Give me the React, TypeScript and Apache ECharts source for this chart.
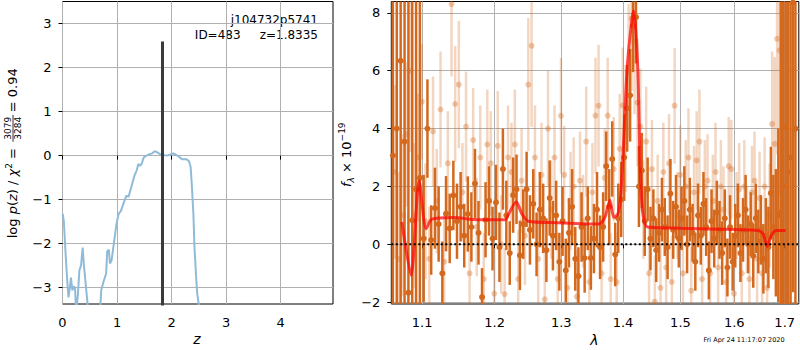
import React, { useEffect, useRef } from 'react';
import * as echarts from 'echarts';

// ---------- left panel: log p(z) ----------
const pzZ = [0.003, 0.025, 0.06, 0.09, 0.11, 0.135, 0.155, 0.18, 0.21, 0.23, 0.25, 0.28, 0.31, 0.34, 0.37, 0.39, 0.43, 0.47, 0.55, 0.69, 0.71, 0.75, 0.80, 0.82, 0.85, 0.87, 0.90, 0.95, 0.99, 1.03, 1.07, 1.12, 1.17, 1.21, 1.26, 1.32, 1.36, 1.39, 1.42, 1.45, 1.49, 1.57, 1.64, 1.69, 1.73, 1.78, 1.85, 1.91, 1.97, 2.03, 2.08, 2.13, 2.19, 2.27, 2.32, 2.35, 2.37, 2.40, 2.42, 2.45, 2.47, 2.50, 2.55, 2.65];
const pzLogP = [-1.32, -1.5, -2.3, -2.9, -3.22, -3.0, -2.77, -3.06, -2.97, -3.0, -3.55, -3.2, -2.6, -2.5, -2.09, -2.45, -2.98, -3.5, -4.5, -3.5, -3.06, -2.87, -2.68, -2.17, -2.14, -2.45, -2.38, -1.92, -1.55, -1.32, -1.26, -1.08, -0.91, -0.94, -0.72, -0.45, -0.34, -0.19, -0.23, -0.19, -0.04, 0.02, 0.05, 0.1, 0.08, 0.04, 0.015, 0, 0.02, 0.05, 0.02, -0.02, -0.08, -0.08, -0.13, -0.26, -0.64, -1.32, -2.08, -2.75, -3.13, -3.4, -4.2, -6];
const zBest = 1.8335;
const zBarTop = 2.59;

const leftXTicks = [0, 1, 2, 3, 4];
const leftYTicks = [-3, -2, -1, 0, 1, 2, 3];
const rightXTicks = [1.1, 1.2, 1.3, 1.4, 1.5, 1.6, 1.7];
const rightYTicks = [-2, 0, 2, 4, 6, 8];

// ---------- right panel: spectrum ----------
const darkWave = [
  1.062, 1.067, 1.072, 1.077, 1.082, 1.087, 1.092, 1.097, 1.102, 1.107,
  1.112, 1.117, 1.122, 1.127, 1.132, 1.137, 1.142, 1.147, 1.152, 1.157,
  1.162, 1.167, 1.172, 1.177, 1.182, 1.187, 1.192, 1.197, 1.202, 1.207,
  1.212, 1.217, 1.222, 1.227, 1.232, 1.237, 1.242, 1.247, 1.252, 1.257,
  1.262, 1.267, 1.272, 1.277, 1.282, 1.287, 1.292, 1.297, 1.302, 1.307,
  1.312, 1.317, 1.322, 1.327, 1.332, 1.337, 1.342, 1.347, 1.352, 1.357,
  1.362, 1.367, 1.372, 1.377, 1.382, 1.387, 1.392, 1.397, 1.402, 1.407,
  1.412, 1.417, 1.422, 1.427, 1.432, 1.437, 1.442, 1.447, 1.452, 1.457,
  1.462, 1.467, 1.472, 1.477, 1.482, 1.487, 1.492, 1.497, 1.502, 1.507,
  1.512, 1.517, 1.522, 1.527, 1.532, 1.537, 1.542, 1.547, 1.552, 1.557,
  1.562, 1.567, 1.572, 1.577, 1.582, 1.587, 1.592, 1.597, 1.602, 1.607,
  1.612, 1.617, 1.622, 1.627, 1.632, 1.637, 1.642, 1.647, 1.652, 1.657,
  1.662, 1.667, 1.672, 1.677, 1.682, 1.687, 1.692, 1.697, 1.702, 1.707,
  1.712, 1.717, 1.722,
];
const darkFlux = [
  3.07, 4.0, 6.34, 3.55, -1.67, 0.83, 1.9, 2.3, 0.2, 4.0,
  0.15, 1.25, 0.7, -1.0, 1.06, 0.55, 1.69, 0.8, 1.3, 0.3,
  1.05, 0.6, 2.1, 0.4, -1.82, 0.85, 1.5, 0.2, 1.45, -0.1,
  2.6, 1.0, -0.3, 1.7, 1.9, -0.38, 0.7, 1.9, 0.5, 1.4,
  0.0, 1.2, 0.9, -0.2, 1.6, 0.3, 1.0, -0.6, 0.8, -0.9,
  0.4, 1.3, -0.5, -1.1, 0.6, -0.47, 0.9, -0.47, 0.2, 1.2,
  -0.1, 0.6, 2.7, 1.3, 2.95, -0.35, 0.9, 1.55, 3.0, 4.7,
  5.15, 7.55, 7.85, 2.0, 2.55, 0.8, 1.9, 0.2, 0.9, -0.2,
  0.4, 1.2, 0.6, -0.1, 1.75, 0.5, 1.3, 0.2, 0.9, 1.5,
  0.0, 1.2, 0.4, -0.6, 1.0, 0.3, 1.4, 0.6, -0.9, 0.8,
  0.2, 1.1, 0.5, -0.3, 0.9, -0.8, 0.6, -0.6, 0.3, 1.0,
  -0.3, 0.5, 1.2, 0.0, 0.7, -0.4, 0.9, 0.1, 0.5, -0.5,
  0.3, -0.1, 1.77, 0.6, 0.4, 1.0, 1.1, 2.0, 4.05, 2.5,
  3.0, 8.35, 4.0,
];
const darkErr = [
  11, 11, 11, 11, 11, 11, 10, 10, 2.2, 1.7,
  1.2, 1.4, 1.3, 1.1, 1.3, 1.2, 1.2, 1.3, 1.2, 1.1,
  1.3, 1.2, 1.2, 1.1, 1.0, 1.3, 1.2, 1.1, 1.3, 1.2,
  1.4, 1.2, 1.1, 1.3, 1.2, 1.2, 1.2, 1.3, 1.2, 1.2,
  1.1, 1.3, 1.2, 1.1, 1.3, 1.2, 1.2, 1.0, 1.2, 1.1,
  1.2, 1.3, 1.1, 1.0, 1.2, 1.2, 1.1, 1.1, 1.2, 1.3,
  1.1, 1.2, 1.2, 1.3, 1.3, 1.1, 1.2, 1.3, 1.5, 1.5,
  1.6, 1.6, 1.6, 1.4, 1.3, 1.2, 1.1, 1.1, 1.0, 1.1,
  1.0, 1.1, 1.0, 1.1, 1.2, 1.0, 1.1, 1.0, 1.1, 1.2,
  1.0, 1.1, 1.0, 1.0, 1.1, 1.0, 1.1, 1.0, 1.0, 1.1,
  1.0, 1.1, 1.0, 1.1, 1.0, 1.0, 1.1, 1.0, 1.1, 1.1,
  1.0, 1.1, 1.2, 1.0, 1.1, 1.1, 1.2, 1.1, 1.2, 1.2,
  1.3, 1.4, 1.6, 1.8, 2.2, 3.0, 10, 10, 10, 10,
  10, 10, 10,
];

const lightWave = [
  1.0645, 1.0695, 1.0745, 1.0795, 1.0845, 1.0895, 1.0945, 1.0995, 1.1045, 1.1095,
  1.1145, 1.1195, 1.1245, 1.1295, 1.1345, 1.1395, 1.1445, 1.1495, 1.1545, 1.1595,
  1.1645, 1.1695, 1.1745, 1.1795, 1.1845, 1.1895, 1.1945, 1.1995, 1.2045, 1.2095,
  1.2145, 1.2195, 1.2245, 1.2295, 1.2345, 1.2395, 1.2445, 1.2495, 1.2545, 1.2595,
  1.2645, 1.2695, 1.2745, 1.2795, 1.2845, 1.2895, 1.2945, 1.2995, 1.3045, 1.3095,
  1.3145, 1.3195, 1.3245, 1.3295, 1.3345, 1.3395, 1.3445, 1.3495, 1.3545, 1.3595,
  1.3645, 1.3695, 1.3745, 1.3795, 1.3845, 1.3895, 1.3945, 1.3995, 1.4045, 1.4095,
  1.4145, 1.4195, 1.4245, 1.4295, 1.4345, 1.4395, 1.4445, 1.4495, 1.4545, 1.4595,
  1.4645, 1.4695, 1.4745, 1.4795, 1.4845, 1.4895, 1.4945, 1.4995, 1.5045, 1.5095,
  1.5145, 1.5195, 1.5245, 1.5295, 1.5345, 1.5395, 1.5445, 1.5495, 1.5545, 1.5595,
  1.5645, 1.5695, 1.5745, 1.5795, 1.5845, 1.5895, 1.5945, 1.5995, 1.6045, 1.6095,
  1.6145, 1.6195, 1.6245, 1.6295, 1.6345, 1.6395, 1.6445, 1.6495, 1.6545, 1.6595,
  1.6645, 1.6695, 1.6745, 1.6795, 1.6845, 1.6895,
];
const lightFlux = [
  2.5, -0.5, 1.0, 3.8, 6.0, 1.0, 3.0, 4.93, 0.8, -0.5,
  3.9, 1.5, 4.66, -0.6, 2.8, 8.3, 4.85, 5.52, 1.8, 4.07,
  -1.0, 3.6, 0.6, 3.0, -1.2, 3.45, 2.8, -1.7, 3.4, 0.0,
  -1.72, 3.0, 2.5, 3.45, -1.2, 2.2, 0.3, 5.52, 6.86, 3.0,
  -0.5, 2.4, -1.9, 4.0, 1.2, 3.0, -1.2, 4.44, 2.4, -1.5,
  1.5, 2.0, -1.8, 2.2, 0.8, 3.55, -1.3, 1.8, 4.45, 4.79,
  -1.0, 2.3, 4.45, -1.2, 2.6, -1.3, 3.3, 4.8, 4.0, 6.0,
  7.8, 7.0, 4.9, 4.07, 1.2, 3.55, -1.0, 2.6, -1.98, 1.5,
  -1.5, 2.5, -0.8, 2.8, -1.3, 4.79, 1.0, 2.4, -1.0, 2.0,
  3.0, -1.6, 1.8, 2.9, 3.55, -1.2, 2.0, 2.2, -1.0, 1.5,
  2.5, -0.8, 2.0, 1.2, -1.3, 2.7, 2.6, -1.7, 1.0, 1.9,
  -1.0, 2.0, 0.5, -1.2, 1.8, 2.2, -0.5, 1.6, -1.0, 2.0,
  -1.5, 1.0, 4.16, 3.47, 7.1, 6.7,
];
const lightErr = [
  3.0, 3.0, 2.8, 2.5, 2.8, 2.5, 2.2, 2.0, 2.0, 1.8,
  1.9, 1.8, 2.0, 1.7, 1.8, 2.5, 2.0, 2.2, 1.7, 1.9,
  1.6, 1.8, 1.7, 1.8, 1.6, 1.9, 1.8, 1.6, 1.9, 1.7,
  1.6, 1.8, 1.7, 1.9, 1.7, 1.8, 1.7, 2.3, 2.8, 1.8,
  1.6, 1.8, 1.7, 2.0, 1.7, 1.8, 1.6, 2.0, 1.7, 1.6,
  1.7, 1.7, 1.6, 1.7, 1.6, 1.9, 1.6, 1.7, 2.0, 2.1,
  1.6, 1.7, 2.0, 1.6, 1.8, 1.7, 1.9, 2.0, 2.2, 2.3,
  2.5, 2.5, 2.2, 2.0, 1.7, 1.9, 1.6, 1.7, 1.6, 1.6,
  1.5, 1.7, 1.5, 1.7, 1.6, 2.0, 1.5, 1.7, 1.5, 1.6,
  1.7, 1.5, 1.6, 1.7, 1.8, 1.5, 1.6, 1.6, 1.5, 1.6,
  1.7, 1.5, 1.6, 1.5, 1.5, 1.7, 1.7, 1.5, 1.5, 1.6,
  1.5, 1.6, 1.5, 1.5, 1.6, 1.7, 1.5, 1.6, 1.6, 1.7,
  1.7, 1.8, 2.5, 3.0, 4.0, 5.0,
];

const modelWave = [1.0735, 1.0855, 1.096, 1.1053, 1.1129, 1.1424, 1.17, 1.2154, 1.2203, 1.2316, 1.24, 1.2498, 1.2934, 1.36, 1.3698, 1.3781, 1.3847, 1.3914, 1.3958, 1.4003, 1.407, 1.4155, 1.4182, 1.425, 1.4291, 1.4326, 1.4365, 1.4423, 1.5014, 1.6009, 1.6463, 1.6561, 1.6648, 1.6728, 1.6829, 1.7019];
const modelFlux = [0.77, -1.07, 2.2, 0.54, 0.87, 0.93, 0.86, 0.85, 1.05, 1.47, 1.05, 0.8, 0.75, 0.70, 0.93, 1.52, 0.93, 1.05, 1.61, 3.22, 6.1, 7.85, 8.07, 6.1, 2.67, 1.29, 0.77, 0.6, 0.56, 0.51, 0.48, 0.37, -0.07, 0.31, 0.48, 0.48];

const FONT = 'DejaVu Sans';
const ORANGE = '212,105,30';

const minusFmt = (v: number) => (v < 0 ? '\u2212' + Math.abs(v) : String(v));

function makeErrRender(barColor: string, dotColor: string, r: number, lw: number) {
  return (params: any, api: any) => {
    const x = api.value(0);
    const y = api.value(1);
    const e = api.value(2);
    const cs = params.coordSys;
    const c = api.coord([x, y]);
    const t = api.coord([x, y + e]);
    const b = api.coord([x, y - e]);
    const top = Math.max(cs.y, t[1]);
    const bot = Math.min(cs.y + cs.height, b[1]);
    const children: any[] = [];
    if (bot > top) {
      children.push({ type: 'line', shape: { x1: c[0], y1: top, x2: c[0], y2: bot }, style: { stroke: barColor, lineWidth: lw } });
    }
    if (c[1] >= cs.y - 1 && c[1] <= cs.y + cs.height + 1) {
      children.push({ type: 'circle', shape: { cx: c[0], cy: c[1], r }, style: { fill: dotColor } });
    }
    return { type: 'group', children };
  };
}

const axisCommon = (ticks: number[], fmt: (v: number) => string, margin: number) => ({
  axisLine: { show: false },
  axisTick: { show: true, inside: false, length: 4, lineStyle: { color: '#000', width: 1 }, customValues: ticks },
  axisLabel: { customValues: ticks, margin, fontSize: 13, fontFamily: FONT, color: '#000', formatter: fmt },
  splitLine: { show: true, lineStyle: { color: '#b0b0b0', width: 1 } },
});

export default function App() {
  const ref = useRef<HTMLDivElement>(null);
  useEffect(() => {
    if (!ref.current) return;
    const chart = echarts.init(ref.current, null, { renderer: 'svg' });
    const option: any = {
      animation: false,
      backgroundColor: '#ffffff',
      textStyle: { fontFamily: FONT },
      grid: [
        { left: 62.5, top: 1.5, width: 270.5, height: 302.5, show: true, borderColor: '#000', borderWidth: 1, outerBoundsMode: 'none', containLabel: false },
        { left: 391.3, top: 1.5, width: 407.5, height: 302.5, show: true, borderColor: '#000', borderWidth: 1, outerBoundsMode: 'none', containLabel: false },
      ],
      xAxis: [
        { gridIndex: 0, type: 'value', min: 0, max: 4.96, ...axisCommon(leftXTicks, (v: number) => String(v), 12) },
        { gridIndex: 1, type: 'log', logBase: 10, min: 1.06, max: 1.729, ...axisCommon(rightXTicks, (v: number) => Number(v).toFixed(1), 12) },
      ],
      yAxis: [
        { gridIndex: 0, type: 'value', min: -3.37, max: 3.5, ...axisCommon(leftYTicks, minusFmt, 11) },
        { gridIndex: 1, type: 'value', min: -2.06, max: 8.39, ...axisCommon(rightYTicks, minusFmt, 11) },
      ],
      series: [
        {
          type: 'line', xAxisIndex: 0, yAxisIndex: 0, symbol: 'none', clip: true,
          data: pzZ.map((z, i) => [z, pzLogP[i]]),
          lineStyle: { color: '#8fbbd9', width: 2 },
        },
        {
          type: 'line', xAxisIndex: 0, yAxisIndex: 0, symbol: 'none', clip: true,
          data: [[zBest, -4], [zBest, zBarTop]],
          lineStyle: { color: '#3a3a3a', width: 3, cap: 'butt' },
        },
        {
          type: 'custom', xAxisIndex: 1, yAxisIndex: 1,
          renderItem: makeErrRender(`rgba(${ORANGE},0.27)`, `rgba(${ORANGE},0.35)`, 3, 2.5),
          encode: { x: 0, y: 1 },
          data: lightWave.map((w, i) => [w, lightFlux[i], lightErr[i]]),
        },
        {
          type: 'custom', xAxisIndex: 1, yAxisIndex: 1,
          renderItem: makeErrRender(`rgb(${ORANGE})`, `rgb(${ORANGE})`, 3, 2.5),
          encode: { x: 0, y: 1 },
          data: darkWave.map((w, i) => [w, darkFlux[i], darkErr[i]]),
        },
        {
          type: 'line', xAxisIndex: 1, yAxisIndex: 1, symbol: 'none', clip: true, smooth: 0.25,
          data: modelWave.map((w, i) => [w, modelFlux[i]]),
          lineStyle: { color: 'rgba(255,0,0,0.7)', width: 3 },
        },
        {
          type: 'line', xAxisIndex: 1, yAxisIndex: 1, symbol: 'none', clip: true,
          data: [[1.06, 0], [1.729, 0]],
          lineStyle: { color: '#000', width: 2, type: [2, 2.5] },
        },
      ],
      graphic: [
        { type: 'text', x: 318, y: 20, style: { text: 'j104732p5741', fontSize: 12, fontFamily: FONT, fill: '#000', align: 'right', verticalAlign: 'middle' } },
        { type: 'text', x: 318, y: 34.5, style: { text: 'ID=483     z=1.8335', fontSize: 12, fontFamily: FONT, fill: '#000', align: 'right', verticalAlign: 'middle' } },
        { type: 'text', x: 197, y: 339, style: { text: 'z', fontSize: 14, fontStyle: 'italic', fontFamily: FONT, fill: '#000', align: 'center', verticalAlign: 'middle' } },
        { type: 'text', x: 594.5, y: 340, style: { text: '\u03bb', fontSize: 14, fontStyle: 'italic', fontFamily: FONT, fill: '#000', align: 'center', verticalAlign: 'middle' } },
        { type: 'text', x: 744, y: 339.5, style: { text: 'Fri Apr 24 11:17:07 2020', fontSize: 6.5, fontFamily: FONT, fill: '#000', align: 'center', verticalAlign: 'middle' } },
        {
          type: 'group', x: 12.5, y: 238.3, rotation: Math.PI / 2,
          children: [
            {
              type: 'text', x: 0, y: 0,
              style: {
                text: 'log {i|p}({i|z}) / {i|\u03c7}{s|2} =',
                fontSize: 13, fontFamily: FONT, fill: '#000', align: 'left', verticalAlign: 'middle', lineHeight: 16,
                rich: { i: { fontStyle: 'italic', fontSize: 13, fontFamily: FONT }, s: { fontSize: 9, fontFamily: FONT, verticalAlign: 'top', lineHeight: 12 } },
              },
            },
            { type: 'text', x: 110, y: -4.5, style: { text: '3079', fontSize: 9, fontFamily: FONT, fill: '#000', align: 'center', verticalAlign: 'middle' } },
            { type: 'line', shape: { x1: 96.5, y1: 0.5, x2: 123.5, y2: 0.5 }, style: { stroke: '#000', lineWidth: 0.8 } },
            { type: 'text', x: 110, y: 5.5, style: { text: '3284', fontSize: 9, fontFamily: FONT, fill: '#000', align: 'center', verticalAlign: 'middle' } },
            { type: 'text', x: 126, y: 0, style: { text: '= 0.94', fontSize: 13, fontFamily: FONT, fill: '#000', align: 'left', verticalAlign: 'middle' } },
          ],
        },
        {
          type: 'group', x: 346, y: 187, rotation: Math.PI / 2,
          children: [
            {
              type: 'text', x: 0, y: 0,
              style: {
                text: '{i|f}{sub|\u03bb} \u00d7 10{sup|\u221219}',
                fontSize: 13, fontFamily: FONT, fill: '#000', align: 'left', verticalAlign: 'middle', lineHeight: 18,
                rich: {
                  i: { fontStyle: 'italic', fontSize: 13, fontFamily: FONT },
                  sub: { fontStyle: 'italic', fontSize: 9, fontFamily: FONT, verticalAlign: 'bottom', lineHeight: 12 },
                  sup: { fontSize: 9, fontFamily: FONT, verticalAlign: 'top', lineHeight: 12 },
                },
              },
            },
          ],
        },
      ],
    };
    chart.setOption(option);
    return () => chart.dispose();
  }, []);
  return <div ref={ref} style={{ position: 'fixed', left: 0, top: 0, width: 800, height: 350, background: '#fff' }} />;
}
